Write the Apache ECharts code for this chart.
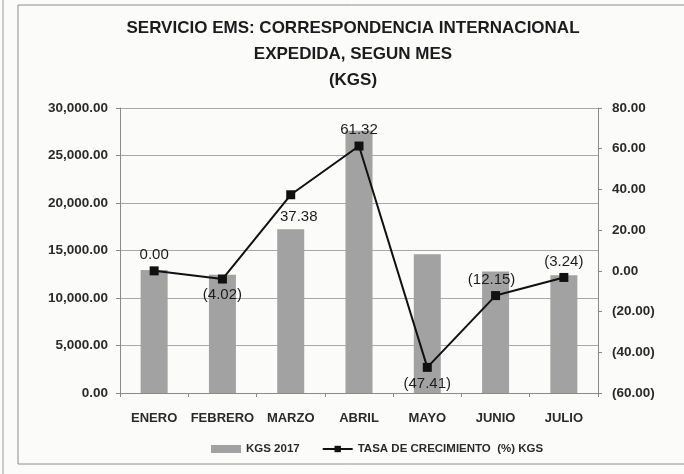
<!DOCTYPE html>
<html>
<head>
<meta charset="utf-8">
<script src="https://cdn.jsdelivr.net/npm/echarts@6/dist/echarts.min.js"></script>
<style>
  html, body { margin: 0; padding: 0; background: #fbfbfa; }
  #ems-chart { width: 684px; height: 474px; }
</style>
</head>
<body>
<div id="ems-chart"></div>
<script>
const months = ['ENERO', 'FEBRERO', 'MARZO', 'ABRIL', 'MAYO', 'JUNIO', 'JULIO'];
const kgs2017 = [12950, 12450, 17250, 27600, 14600, 12800, 12400];
const tasa = [0.00, -4.02, 37.38, 61.32, -47.41, -12.15, -3.24];
// where each growth label sits relative to its point
const labelPos = ['top', 'bottom', 'bottom', 'top', 'bottom', 'top', 'top'];
const labelOffset = [[0, 0], [0, 0], [8, 6], [0, 0], [0, 0], [-4, 0], [0, 0]];

const sans = "'Liberation Sans', sans-serif";
const ink = '#1c1c1c';

function fmt(v) {
  const s = Math.abs(v).toLocaleString('en-US', {minimumFractionDigits: 2, maximumFractionDigits: 2});
  return v < 0 ? '(' + s + ')' : s;
}

const chart = echarts.init(document.getElementById('ems-chart'));
chart.setOption({
  backgroundColor: '#fbfbfa',
  animation: false,
  graphic: [
    {type: 'line', shape: {x1: 3, y1: 0, x2: 3, y2: 474}, style: {stroke: '#9a9a9a', lineWidth: 1}},
    {type: 'rect', shape: {x: 18, y: 5, width: 700, height: 459}, style: {fill: 'none', stroke: '#8c8c8c', lineWidth: 1}}
  ],
  title: {
    text: 'SERVICIO EMS: CORRESPONDENCIA INTERNACIONAL\nEXPEDIDA, SEGUN MES\n(KGS)',
    left: 348,
    textAlign: 'center',
    top: 10,
    textStyle: {fontFamily: sans, fontSize: 17, fontWeight: 'bold', color: ink, lineHeight: 26}
  },
  legend: {
    left: 206,
    top: 438,
    itemGap: 22,
    itemWidth: 30,
    itemHeight: 8,
    textStyle: {fontFamily: sans, fontSize: 11.5, fontWeight: 'bold', color: '#2a2a2a'},
    data: [
      {name: 'KGS 2017', icon: 'rect'},
      {name: 'TASA DE CRECIMIENTO  (%) KGS'}
    ]
  },
  grid: {left: 120, right: 86, top: 108, bottom: 81},
  xAxis: {
    type: 'category',
    data: months,
    axisLine: {lineStyle: {color: '#8a8a8a'}},
    axisTick: {show: true, length: 4, lineStyle: {color: '#8a8a8a'}},
    axisLabel: {margin: 19, fontFamily: sans, fontSize: 13, fontWeight: 'bold', color: '#2a2a2a', interval: 0}
  },
  yAxis: [
    {
      type: 'value',
      min: 0, max: 30000, interval: 5000,
      axisLine: {show: true, lineStyle: {color: '#8a8a8a'}},
      axisTick: {show: true, length: 4, lineStyle: {color: '#8a8a8a'}},
      splitLine: {lineStyle: {color: '#a8a8a8'}},
      axisLabel: {margin: 12, fontFamily: sans, fontSize: 13.5, fontWeight: 'bold', color: '#2a2a2a', formatter: fmt}
    },
    {
      type: 'value',
      min: -60, max: 80, interval: 20,
      axisLine: {show: true, lineStyle: {color: '#8a8a8a'}},
      axisTick: {show: true, length: 4, lineStyle: {color: '#8a8a8a'}},
      splitLine: {show: false},
      axisLabel: {margin: 14, fontFamily: sans, fontSize: 13.5, fontWeight: 'bold', color: '#2a2a2a', formatter: fmt}
    }
  ],
  series: [
    {
      name: 'KGS 2017',
      type: 'bar',
      data: kgs2017,
      barWidth: 27,
      itemStyle: {color: '#a2a2a2'}
    },
    {
      name: 'TASA DE CRECIMIENTO  (%) KGS',
      type: 'line',
      yAxisIndex: 1,
      data: tasa.map((v, i) => ({
        value: v,
        label: {position: labelPos[i], offset: labelOffset[i]}
      })),
      symbol: 'rect',
      symbolSize: 9,
      lineStyle: {color: '#111', width: 2},
      itemStyle: {color: '#111'},
      label: {
        show: true,
        distance: 4,
        fontFamily: sans,
        fontSize: 15,
        color: ink,
        formatter: p => fmt(p.value)
      }
    }
  ]
});
</script>
</body>
</html>
